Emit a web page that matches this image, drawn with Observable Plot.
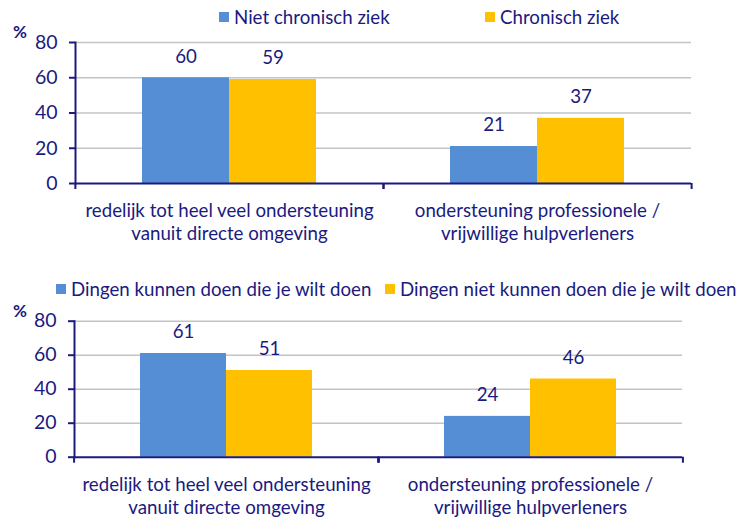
<!DOCTYPE html>
<html>
<head>
<meta charset="utf-8">
<script src="https://cdn.jsdelivr.net/npm/d3@7"></script>
<script src="https://cdn.jsdelivr.net/npm/@observablehq/plot@0.6"></script>
<style>
  body { margin: 0; background: #fff; }
  #wrap { position: relative; width: 738px; height: 519px; font-family: Lato, "Noto Sans", sans-serif; color: #1a1a80; }
  .panel { position: absolute; left: 0; }
  .leg { position: absolute; display: flex; align-items: center; font-size: 18.7px; white-space: nowrap; }
  .sw { width: 10px; height: 10px; margin-right: 5px; }
  .pct { position: absolute; font-weight: bold; font-size: 17px; }
</style>
</head>
<body>
<div id="wrap"></div>
<script>
const categories = [
  "redelijk tot heel veel ondersteuning\nvanuit directe omgeving",
  "ondersteuning professionele /\nvrijwillige hulpverleners"
];
const seriesTop = ["Niet chronisch ziek", "Chronisch ziek"];
const topNietChronisch = [60, 21];
const topChronisch = [59, 37];
const seriesBottom = ["Dingen kunnen doen die je wilt doen", "Dingen niet kunnen doen die je wilt doen"];
const bottomKunnen = [61, 24];
const bottomNietKunnen = [51, 46];
const yTicks = [0, 20, 40, 60, 80];
const colors = ["#558ED5", "#FFC000"];
const navy = "#1a1a80";

function rowsFor(series, a, b) {
  const rows = [];
  categories.forEach((c, i) => {
    rows.push({category: c, series: series[0], value: a[i]});
    rows.push({category: c, series: series[1], value: b[i]});
  });
  return rows;
}

function panel(series, rows, height, mt, mb, ml, mr) {
  const W = 738;
  const bw = (W - ml - mr) / categories.length;
  return Plot.plot({
    width: W, height,
    marginTop: mt, marginBottom: mb, marginLeft: ml, marginRight: mr,
    style: {fontFamily: "Lato, 'Noto Sans', sans-serif", fontSize: "18.7px", color: navy, background: "transparent", overflow: "visible"},
    fx: {domain: categories, padding: 0, axis: null},
    x: {domain: series, paddingInner: 0, paddingOuter: 0.76, axis: null},
    y: {domain: [0, 80], axis: null},
    color: {domain: series, range: colors},
    marks: [
      Plot.ruleY(yTicks.filter(d => d > 0), {stroke: "#c4c4c4", strokeWidth: 1.5}),
      Plot.barY(rows, {fx: "category", x: "series", y: "value", fill: "series"}),
      Plot.text(rows, {fx: "category", x: "series", y: "value", text: d => String(d.value), dy: -21, fill: navy, fontSize: 18.7}),
      Plot.ruleY([0], {stroke: navy, strokeWidth: 2}),
      Plot.frame({anchor: "left", stroke: navy, strokeWidth: 2, facetAnchor: "left"}),
      Plot.axisY({ticks: yTicks, tickSize: 6, tickPadding: 12, stroke: navy, strokeWidth: 2, fill: navy, fontSize: 19.5, label: null}),
      Plot.axisFx({anchor: "bottom", tickSize: 6, text: null, dx: -bw / 2, stroke: navy, strokeWidth: 2, label: null}),
      Plot.axisFx({anchor: "bottom", tickSize: 6, text: null, dx: bw / 2, stroke: navy, strokeWidth: 2, label: null}),
      Plot.axisFx({anchor: "bottom", tickSize: 0, tickPadding: 18, lineHeight: 1.2, fill: navy, fontSize: 18.7, label: null})
    ]
  });
}

const wrap = document.getElementById("wrap");

function addPanel(top, series, rows, height, mt, mb, ml, mr) {
  const d = document.createElement("div");
  d.className = "panel";
  d.style.top = top + "px";
  d.appendChild(panel(series, rows, height, mt, mb, ml, mr));
  wrap.appendChild(d);
}

function addLegend(series, lefts, top) {
  series.forEach((s, i) => {
    const l = document.createElement("div");
    l.className = "leg";
    l.style.left = lefts[i] + "px";
    l.style.top = top + "px";
    const sw = document.createElement("span");
    sw.className = "sw";
    sw.style.background = colors[i];
    const t = document.createElement("span");
    t.textContent = s;
    l.appendChild(sw); l.appendChild(t);
    wrap.appendChild(l);
  });
}

function addPct(top) {
  const p = document.createElement("div");
  p.className = "pct";
  p.style.left = "13px";
  p.style.top = top + "px";
  p.textContent = "%";
  wrap.appendChild(p);
}

addPanel(0, seriesTop, rowsFor(seriesTop, topNietChronisch, topChronisch), 260, 42, 77, 75, 46.5);
addPanel(270, seriesBottom, rowsFor(seriesBottom, bottomKunnen, bottomNietKunnen), 249, 50.7, 62.3, 73, 55.3);
addLegend(seriesTop, [219, 485], 6);
addLegend(seriesBottom, [56, 385], 278);
addPct(21);
addPct(300);
</script>
</body>
</html>
